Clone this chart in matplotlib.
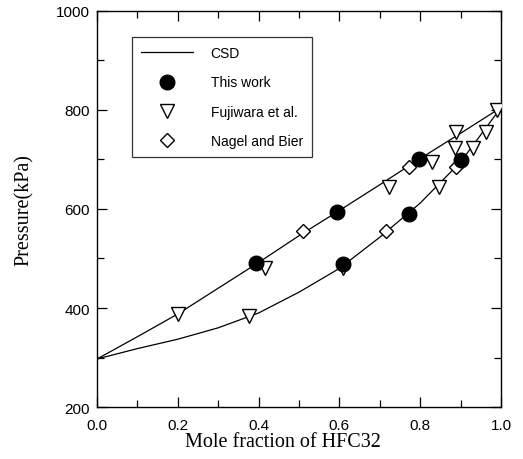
import matplotlib
matplotlib.use("Agg")
import matplotlib.pyplot as plt
from matplotlib.ticker import MultipleLocator

# CSD curves
csd_x = [0.0, 0.1, 0.2, 0.3, 0.4, 0.5, 0.6, 0.7, 0.8, 0.9, 1.0]
csd_bubble = [297, 342, 388, 440, 492, 546, 597, 649, 702, 753, 805]
csd_dew = [297, 318, 337, 360, 390, 432, 480, 543, 612, 695, 805]

# This work
tw_x = [0.393, 0.593, 0.798, 0.610, 0.773, 0.901]
tw_p = [490, 593, 701, 489, 590, 699]

# Fujiwara et al.
fj_x = [0.201, 0.416, 0.375, 0.610, 0.723, 0.830, 0.888, 0.847, 0.886, 0.931, 0.963, 0.989]
fj_p = [388, 480, 384, 480, 644, 695, 756, 644, 723, 723, 756, 799]

# Nagel and Bier
nb_x = [0.511, 0.771, 0.715, 0.888]
nb_p = [555, 685, 555, 684]

x_ticks = [0.0, 0.2, 0.4, 0.6, 0.8, 1.0]
y_ticks = [200, 400, 600, 800, 1000]

fig = plt.figure(figsize=(5.23, 4.60), dpi=100)
ax = fig.add_axes([0.1855, 0.113, 0.7725, 0.861])

ax.plot(csd_x, csd_bubble, color="black", lw=0.9, label="CSD")
ax.plot(csd_x, csd_dew, color="black", lw=0.9)
ax.plot(fj_x, fj_p, linestyle="none", marker="v", ms=9.5, mfc="white", mec="black", mew=1.0, label="Fujiwara et al.", zorder=3)
ax.plot(nb_x, nb_p, linestyle="none", marker="D", ms=7, mfc="white", mec="black", mew=1.0, label="Nagel and Bier", zorder=3)
ax.plot(tw_x, tw_p, linestyle="none", marker="o", ms=10.5, mfc="black", mec="black", label="This work", zorder=4)

ax.set_xlim(0, 1)
ax.set_ylim(200, 1000)
ax.set_xticks(x_ticks)
ax.set_yticks(y_ticks)
ax.set_xticklabels(["%.1f" % v for v in x_ticks], fontfamily="Liberation Sans", fontsize=11)
ax.set_yticklabels([str(v) for v in y_ticks], fontfamily="Liberation Sans", fontsize=11)
ax.xaxis.set_minor_locator(MultipleLocator(0.1))
ax.yaxis.set_minor_locator(MultipleLocator(100))
ax.tick_params(which="both", direction="in", top=True, right=True, width=0.9)
ax.tick_params(which="major", length=7)
ax.tick_params(which="minor", length=5)
ax.tick_params(axis="x", which="major", pad=8)
ax.tick_params(axis="y", which="major", pad=5)
for s in ax.spines.values():
    s.set_linewidth(1.0)

ax.set_xlabel("Mole fraction of HFC32", fontfamily="Liberation Serif", fontsize=14.5, labelpad=1)
ax.xaxis.set_label_coords(0.46, -0.063)
ax.set_ylabel("Pressure(kPa)", fontfamily="Liberation Serif", fontsize=14.5, labelpad=16)

handles, labels = ax.get_legend_handles_labels()
order = ["CSD", "This work", "Fujiwara et al.", "Nagel and Bier"]
hl = dict(zip(labels, handles))
leg = ax.legend([hl[k] for k in order], order, loc="upper left",
                bbox_to_anchor=(0.087, 0.934), borderaxespad=0, frameon=True, fancybox=False,
                edgecolor="black", prop={"family": "Liberation Sans", "size": 10},
                handlelength=3.7, labelspacing=1.1, borderpad=0.65, handletextpad=1.3)
leg.get_frame().set_linewidth(0.9)

fig.savefig("out.png", dpi=100)
